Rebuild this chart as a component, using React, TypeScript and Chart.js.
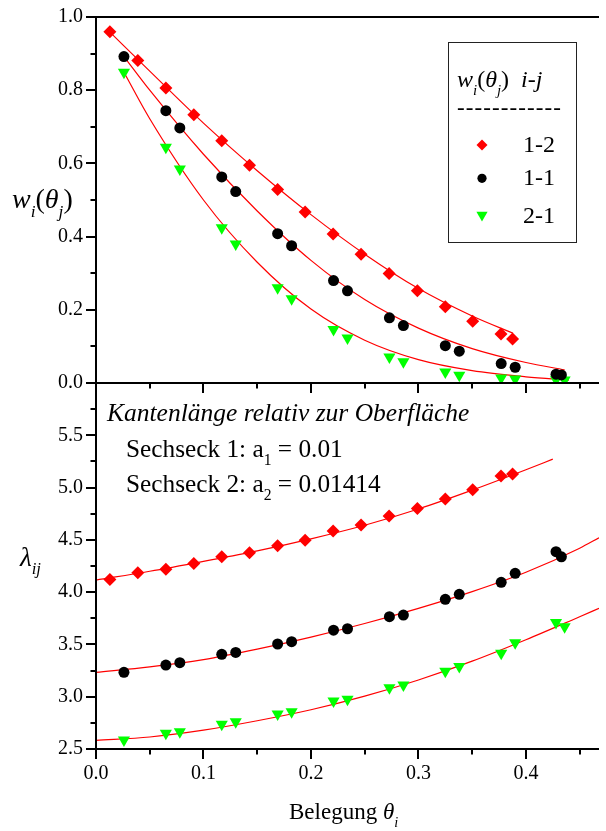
import React, { useEffect, useRef } from 'react';
import { Chart, registerables } from 'chart.js';

Chart.register(...registerables);

const FONT = "'Liberation Serif', 'Times New Roman', serif";

// ---------- x positions (Belegung θ_i) ----------
const redX = [0.0129, 0.0389, 0.065, 0.091, 0.117, 0.1428, 0.169, 0.1946, 0.2206, 0.2466, 0.2727, 0.299, 0.325, 0.3505, 0.3768, 0.3876];
const blackX = [0.026, 0.065, 0.078, 0.117, 0.13, 0.169, 0.182, 0.221, 0.234, 0.273, 0.286, 0.325, 0.338, 0.377, 0.39, 0.428, 0.433];
const greenX = [0.026, 0.065, 0.078, 0.117, 0.13, 0.169, 0.182, 0.221, 0.234, 0.273, 0.286, 0.325, 0.338, 0.377, 0.39, 0.428, 0.436];

// ---------- top panel: w_i(θ_j) ----------
const redTopY = [0.96, 0.881, 0.806, 0.733, 0.662, 0.595, 0.529, 0.467, 0.407, 0.352, 0.299, 0.252, 0.208, 0.169, 0.134, 0.12];
const blackTopY = [0.892, 0.744, 0.697, 0.563, 0.523, 0.408, 0.375, 0.28, 0.252, 0.178, 0.157, 0.102, 0.087, 0.053, 0.043, 0.024, 0.022];
const greenTopY = [0.849, 0.644, 0.585, 0.424, 0.38, 0.26, 0.23, 0.146, 0.123, 0.071, 0.058, 0.03, 0.021, 0.014, 0.011, 0.009, 0.008];

// fit curves, top panel
const redTopFitX = [0.0125, 0.05, 0.1, 0.15, 0.2, 0.25, 0.3, 0.35, 0.388];
const redTopFitY = [0.96, 0.852, 0.71, 0.58, 0.46, 0.352, 0.258, 0.183, 0.136];
const blackTopFitX = [0.026, 0.05, 0.1, 0.15, 0.2, 0.25, 0.3, 0.35, 0.4, 0.436];
const blackTopFitY = [0.892, 0.8, 0.625, 0.47, 0.335, 0.228, 0.15, 0.094, 0.056, 0.036];
const greenTopFitX = [0.026, 0.05, 0.1, 0.15, 0.2, 0.25, 0.3, 0.35, 0.4, 0.44];
const greenTopFitY = [0.849, 0.722, 0.5, 0.33, 0.202, 0.117, 0.064, 0.034, 0.017, 0.008];

// ---------- bottom panel: λ_ij ----------
const redBotY = [4.122, 4.185, 4.218, 4.275, 4.339, 4.377, 4.444, 4.497, 4.584, 4.641, 4.727, 4.801, 4.89, 4.98, 5.11, 5.129];
const blackBotY = [3.233, 3.303, 3.325, 3.405, 3.424, 3.504, 3.526, 3.636, 3.65, 3.765, 3.781, 3.931, 3.979, 4.094, 4.18, 4.387, 4.338];
const greenBotY = [2.586, 2.65, 2.665, 2.736, 2.761, 2.835, 2.857, 2.959, 2.975, 3.086, 3.112, 3.243, 3.29, 3.415, 3.516, 3.71, 3.669];

const redBotFitX = [0, 0.05, 0.1, 0.15, 0.2, 0.25, 0.3, 0.35, 0.4, 0.425];
const redBotFitY = [4.115, 4.2, 4.295, 4.395, 4.51, 4.64, 4.795, 4.975, 5.17, 5.272];
const blackBotFitX = [0, 0.05, 0.1, 0.15, 0.2, 0.25, 0.3, 0.35, 0.4, 0.45, 0.468];
const blackBotFitY = [3.233, 3.285, 3.355, 3.455, 3.57, 3.7, 3.845, 4.005, 4.19, 4.42, 4.52];
const greenBotFitX = [0, 0.05, 0.1, 0.15, 0.2, 0.25, 0.3, 0.35, 0.4, 0.45, 0.468];
const greenBotFitY = [2.583, 2.615, 2.68, 2.77, 2.875, 3.005, 3.16, 3.34, 3.545, 3.765, 3.845];

// ---------- ticks ----------
const xMajor = [0, 0.1, 0.2, 0.3, 0.4];
const xMinor = [0.05, 0.15, 0.25, 0.35, 0.45];
const topMajor = [0, 0.2, 0.4, 0.6, 0.8, 1.0];
const topMinor = [0.1, 0.3, 0.5, 0.7, 0.9];
const botMajor = [2.5, 3.0, 3.5, 4.0, 4.5, 5.0, 5.5];
const botMinor = [2.75, 3.25, 3.75, 4.25, 4.75, 5.25, 5.75];

const legendLabels = ['1-2', '1-1', '2-1'];

const RED = '#ff0000';
const GREEN = '#00ff00';

function pts(xs: number[], ys: number[]) {
  return xs.map((x, i) => ({ x, y: ys[i] }));
}

function fitDs(xs: number[], ys: number[], yAxisID: string) {
  return {
    data: pts(xs, ys),
    yAxisID,
    xAxisID: 'x',
    showLine: true,
    borderColor: RED,
    borderWidth: 1.2,
    pointRadius: 0,
    pointHoverRadius: 0,
    cubicInterpolationMode: 'monotone',
    fill: false,
    order: 2,
  };
}

function ptDs(xs: number[], ys: number[], yAxisID: string, style: string, color: string, radius: number, rotation = 0) {
  return {
    data: pts(xs, ys),
    yAxisID,
    xAxisID: 'x',
    showLine: false,
    pointStyle: style,
    pointRadius: radius,
    pointHoverRadius: radius,
    pointRotation: rotation,
    pointBackgroundColor: color,
    pointBorderColor: color,
    pointBorderWidth: 0,
    backgroundColor: color,
    borderColor: color,
    order: 1,
  };
}

const framePlugin = {
  id: 'frame',
  afterDraw(chart: any) {
    const { ctx, chartArea: a, scales } = chart;
    const sx = scales.x, st = scales.yTop, sb = scales.yBot;
    const mid = st.bottom;
    const MAJ = 10, MIN = 5.5;
    ctx.save();
    ctx.strokeStyle = '#000';
    ctx.lineWidth = 2;
    ctx.beginPath();
    ctx.moveTo(a.left - 1, a.top); ctx.lineTo(a.right, a.top);
    ctx.moveTo(a.left - 1, mid); ctx.lineTo(a.right, mid);
    ctx.moveTo(a.left - 1, a.bottom); ctx.lineTo(a.right, a.bottom);
    ctx.moveTo(a.left, a.top - 1); ctx.lineTo(a.left, a.bottom + 1);
    const hx = (v: number, len: number) => {
      const p = Math.round(sx.getPixelForValue(v));
      ctx.moveTo(p, a.bottom); ctx.lineTo(p, a.bottom + len);
      ctx.moveTo(p, mid); ctx.lineTo(p, mid + len);
    };
    xMajor.forEach((v) => hx(v, MAJ));
    xMinor.forEach((v) => hx(v, MIN));
    const vy = (s: any, v: number, len: number) => {
      const p = Math.round(s.getPixelForValue(v));
      ctx.moveTo(a.left, p); ctx.lineTo(a.left - len, p);
    };
    topMajor.forEach((v) => vy(st, v, MAJ));
    topMinor.forEach((v) => vy(st, v, MIN));
    botMajor.forEach((v) => vy(sb, v, MAJ));
    botMinor.forEach((v) => vy(sb, v, MIN));
    ctx.stroke();
    ctx.restore();
  },
};

const Sub = ({ c, off = '0.55em' }: { c: string; off?: string }) => (
  <span style={{ fontSize: '0.62em', position: 'relative', top: off }}>{c}</span>
);

function Txt({ left, base, size, italic, children, extra }: any) {
  return (
    <div
      style={{
        position: 'absolute',
        left,
        top: base - 0.8375 * size,
        fontSize: size,
        lineHeight: 1,
        fontFamily: FONT,
        fontStyle: italic ? 'italic' : 'normal',
        whiteSpace: 'nowrap',
        color: '#000',
        ...(extra || {}),
      }}
    >
      {children}
    </div>
  );
}

export default function App() {
  const ref = useRef<HTMLCanvasElement | null>(null);

  useEffect(() => {
    if (!ref.current) return;
    const tickFont = { family: FONT, size: 20 };
    const chart = new Chart(ref.current, {
      type: 'scatter',
      data: {
        datasets: [
          ptDs(redX, redTopY, 'yTop', 'rectRot', RED, 6.5),
          ptDs(blackX, blackTopY, 'yTop', 'circle', '#000', 5.5),
          ptDs(greenX, greenTopY, 'yTop', 'triangle', GREEN, 7, 180),
          ptDs(redX, redBotY, 'yBot', 'rectRot', RED, 6.5),
          ptDs(blackX, blackBotY, 'yBot', 'circle', '#000', 5.5),
          ptDs(greenX, greenBotY, 'yBot', 'triangle', GREEN, 7, 180),
          fitDs(redTopFitX, redTopFitY, 'yTop'),
          fitDs(blackTopFitX, blackTopFitY, 'yTop'),
          fitDs(greenTopFitX, greenTopFitY, 'yTop'),
          fitDs(redBotFitX, redBotFitY, 'yBot'),
          fitDs(blackBotFitX, blackBotFitY, 'yBot'),
          fitDs(greenBotFitX, greenBotFitY, 'yBot'),
        ] as any,
      },
      options: {
        animation: false,
        responsive: false,
        devicePixelRatio: 1,
        layout: { padding: { top: 17, left: 0, right: 0, bottom: 0 } },
        plugins: { legend: { display: false }, tooltip: { enabled: false } },
        events: [],
        scales: {
          x: {
            type: 'linear',
            position: 'bottom',
            min: 0,
            max: 0.468,
            afterFit: (s: any) => { s.height = 82; },
            afterBuildTicks: (s: any) => { s.ticks = xMajor.map((v) => ({ value: v })); },
            ticks: {
              font: tickFont, color: '#000', padding: 3, maxRotation: 0, autoSkip: false,
              callback: (v: any) => Number(v).toFixed(1),
            },
            grid: { display: false, drawTicks: true, tickLength: 10 },
            border: { display: false },
          },
          yBot: {
            type: 'linear',
            position: 'left',
            stack: 'panels',
            stackWeight: 1,
            weight: 1,
            min: 2.5,
            max: 6.0,
            afterFit: (s: any) => { s.width = 96; },
            afterBuildTicks: (s: any) => { s.ticks = botMajor.map((v) => ({ value: v })); },
            ticks: {
              font: tickFont, color: '#000', padding: 3, autoSkip: false,
              callback: (v: any) => Number(v).toFixed(1),
            },
            grid: { display: false, drawTicks: true, tickLength: 10 },
            border: { display: false },
          },
          yTop: {
            type: 'linear',
            position: 'left',
            stack: 'panels',
            stackWeight: 1,
            weight: 2,
            min: 0,
            max: 1,
            afterFit: (s: any) => { s.width = 96; },
            afterBuildTicks: (s: any) => { s.ticks = topMajor.map((v) => ({ value: v })); },
            ticks: {
              font: tickFont, color: '#000', padding: 3, autoSkip: false,
              callback: (v: any) => Number(v).toFixed(1),
            },
            grid: { display: false, drawTicks: true, tickLength: 10 },
            border: { display: false },
          },
        },
      } as any,
      plugins: [framePlugin],
    });
    return () => chart.destroy();
  }, []);

  const lx = 482;
  const ly = [145, 178.3, 215];

  return (
    <div style={{ position: 'absolute', left: 0, top: 0, width: 606, height: 831, background: '#fff', overflow: 'hidden' }}>
      <canvas ref={ref} width={606} height={831} style={{ position: 'absolute', left: 0, top: 0 }} />

      {/* axis titles */}
      <Txt left={12} base={208} size={28}>
        <i>w</i><i><Sub c="i" /></i>(<i>θ</i><i><Sub c="j" /></i>)
      </Txt>
      <Txt left={20} base={567} size={27}>
        <i>λ</i><i><Sub c="ij" off="0.45em" /></i>
      </Txt>
      <Txt left={289} base={819} size={23}>
        Belegung <i>θ</i><i><Sub c="i" /></i>
      </Txt>

      {/* annotations */}
      <Txt left={107} base={421.7} size={25.5} italic>Kantenlänge relativ zur Oberfläche</Txt>
      <Txt left={126} base={456.7} size={25.3}>
        Sechseck 1: a<Sub c="1" /> = 0.01
      </Txt>
      <Txt left={126} base={491.7} size={25.3}>
        Sechseck 2: a<Sub c="2" /> = 0.01414
      </Txt>

      {/* legend box */}
      <div style={{ position: 'absolute', left: 448, top: 42, width: 129, height: 201, border: '1.5px solid #222', boxSizing: 'border-box' }} />
      <Txt left={457} base={86.7} size={24}>
        <i>w</i><i><Sub c="i" /></i>(<i>θ</i><i><Sub c="j" /></i>)&nbsp;&nbsp;<i>i-j</i>
      </Txt>
      <Txt left={457} base={115} size={23} extra={{ letterSpacing: '1.1px' }}>------------</Txt>
      {legendLabels.map((t, i) => (
        <Txt key={t} left={523} base={ly[i] + 6.7 + (i === 2 ? 1.6 : 0)} size={24}>{t}</Txt>
      ))}
      <svg width={606} height={831} style={{ position: 'absolute', left: 0, top: 0, pointerEvents: 'none' }}>
        <polygon points={`${lx - 5.5},${ly[0]} ${lx},${ly[0] - 5.5} ${lx + 5.5},${ly[0]} ${lx},${ly[0] + 5.5}`} fill={RED} />
        <circle cx={lx} cy={ly[1]} r={4.6} fill="#000" />
        <polygon points={`${lx - 5.6},${ly[2] - 3.3} ${lx + 5.6},${ly[2] - 3.3} ${lx},${ly[2] + 6.4}`} fill={GREEN} />
      </svg>
    </div>
  );
}
